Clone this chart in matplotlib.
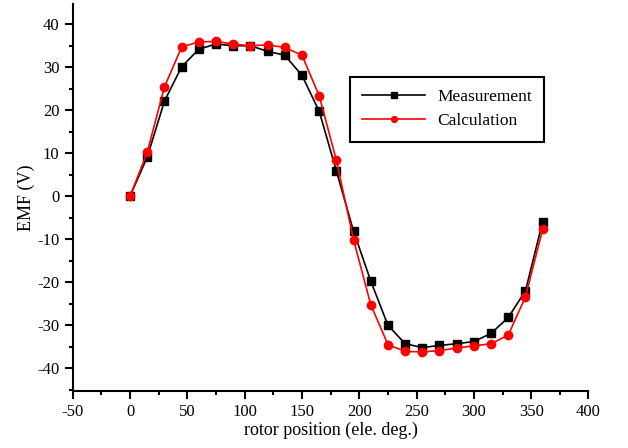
import numpy as np
import matplotlib
matplotlib.use("Agg")
import matplotlib.pyplot as plt
from matplotlib.ticker import MultipleLocator

plt.rcParams['font.family'] = ['Liberation Serif', 'DejaVu Serif']
plt.rcParams['axes.unicode_minus'] = False

# rotor position (electrical degrees)
angle = list(range(0, 361, 15))

# back EMF (V)
emf_measured = [0, 9.1, 22.1, 30.1, 34.2, 35.4, 35.0, 35.0, 33.7, 32.8, 28.1, 19.8, 5.9,
                -8.1, -19.7, -30.0, -34.3, -35.2, -34.7, -34.3, -33.8, -31.9, -28.2, -22.0, -5.9]
emf_calculated = [0, 10.2, 25.4, 34.7, 35.9, 36.0, 35.4, 35.0, 35.2, 34.6, 32.8, 23.4, 8.4,
                  -10.1, -25.2, -34.5, -36.1, -36.2, -35.9, -35.3, -34.8, -34.3, -32.3, -23.4, -7.7]

fig = plt.figure(figsize=(6.28, 4.48), dpi=100)
ax = fig.add_axes([0.1158, 0.1272, 0.8213, 0.8638])

ax.plot(angle, emf_measured, color='black', marker='s', markersize=6, lw=1.2,
        label='Measurement')
ax.plot(angle, emf_calculated, color='red', marker='o', markersize=6, lw=1.2,
        label='Calculation')

ax.set_xlim(-50, 400)
ax.set_ylim(-45.3, 44.7)
ax.xaxis.set_major_locator(MultipleLocator(50))
ax.xaxis.set_minor_locator(MultipleLocator(25))
ax.yaxis.set_major_locator(MultipleLocator(10))
ax.yaxis.set_minor_locator(MultipleLocator(5))

for s in ['top', 'right']:
    ax.spines[s].set_visible(False)
for s in ['left', 'bottom']:
    ax.spines[s].set_linewidth(1.5)
ax.tick_params(which='major', direction='out', length=6, width=1.5, labelsize=12)
ax.tick_params(which='minor', direction='out', length=3, width=1.5)

ax.set_xlabel('rotor position (ele. deg.)', fontsize=13, labelpad=1)
ax.set_ylabel('EMF (V)', fontsize=13, labelpad=2)

leg = ax.legend(loc='upper left', bbox_to_anchor=(0.538, 0.811), fontsize=12.5,
                fancybox=False, edgecolor='black', framealpha=1, handlelength=3.6,
                markerscale=0.7, borderpad=0.7, labelspacing=0.45, handletextpad=0.7,
                borderaxespad=0)
leg.get_frame().set_linewidth(1.5)

fig.savefig('out.png', dpi=100)
